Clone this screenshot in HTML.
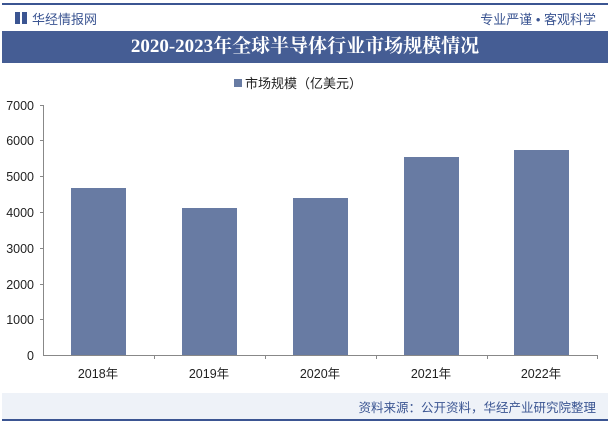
<!DOCTYPE html>
<html><head><meta charset="utf-8"><style>
body{margin:0;width:610px;height:425px;background:#fff;font-family:"Liberation Sans","Noto Sans CJK SC",sans-serif;position:relative;overflow:hidden}
.a{position:absolute}
</style></head><body>
<div class="a" style="left:2px;top:3px;width:606px;height:2px;background:#3b5592"></div>
<div class="a" style="left:15px;top:12px;width:5px;height:12px;background:#3b5592"></div>
<div class="a" style="left:22px;top:12px;width:5px;height:12px;background:#3b5592"></div>
<div class="a" style="left:32px;top:9px;font-size:13px;color:#3b5592">华经情报网</div>
<div class="a" style="right:14px;top:9px;font-size:13px;color:#3b5592">专业严谨 • 客观科学</div>
<div class="a" style="left:2px;top:31px;width:606px;height:32px;background:#455d94;color:#fff;font-family:'Liberation Serif','Noto Serif CJK SC',serif;font-weight:bold;font-size:19px;text-align:center;line-height:32px">2020-2023年全球半导体行业市场规模情况</div>
<div class="a" style="left:234px;top:79px;width:8px;height:8px;background:#687ba3"></div>
<div class="a" style="left:245px;top:73px;font-size:13px;color:#222">市场规模（亿美元）</div>
<svg class="a" style="left:0;top:0" width="610" height="425">
<g fill="#687ba3">
<rect x="71" y="188" width="55" height="167"/>
<rect x="182" y="208" width="55" height="147"/>
<rect x="293" y="198" width="55" height="157"/>
<rect x="404" y="157" width="55" height="198"/>
<rect x="514" y="150" width="55" height="205"/>
</g>
<g stroke="#888" stroke-width="1">
<line x1="43.5" y1="105" x2="43.5" y2="355"/>
<line x1="43" y1="355.5" x2="597" y2="355.5"/>
<line x1="40" y1="105.5" x2="43" y2="105.5"/><line x1="40" y1="140.5" x2="43" y2="140.5"/><line x1="40" y1="176.5" x2="43" y2="176.5"/><line x1="40" y1="212.5" x2="43" y2="212.5"/><line x1="40" y1="248.5" x2="43" y2="248.5"/><line x1="40" y1="284.5" x2="43" y2="284.5"/><line x1="40" y1="319.5" x2="43" y2="319.5"/>
<line x1="154.5" y1="355" x2="154.5" y2="359"/><line x1="265.5" y1="355" x2="265.5" y2="359"/><line x1="376.5" y1="355" x2="376.5" y2="359"/><line x1="487.5" y1="355" x2="487.5" y2="359"/><line x1="597.5" y1="355" x2="597.5" y2="359"/>
</g>
<g font-size="12.5" fill="#222" text-anchor="end" font-family="Liberation Sans">
<text x="34" y="110">7000</text><text x="34" y="145">6000</text><text x="34" y="181">5000</text><text x="34" y="217">4000</text><text x="34" y="253">3000</text><text x="34" y="289">2000</text><text x="34" y="324">1000</text><text x="34" y="360">0</text>
</g>
<g font-size="12.5" fill="#222" text-anchor="middle" font-family="Liberation Sans,Noto Sans CJK SC,sans-serif">
<text x="98" y="378">2018年</text><text x="209" y="378">2019年</text><text x="320" y="378">2020年</text><text x="431" y="378">2021年</text><text x="541" y="378">2022年</text>
</g>
</svg>
<div class="a" style="left:2px;top:393px;width:606px;height:26px;background:#eef2f8"></div>
<div class="a" style="right:14px;top:397px;font-size:12.5px;color:#3b5592">资料来源：公开资料，华经产业研究院整理</div>
<div class="a" style="left:2px;top:419px;width:606px;height:2px;background:#3b5592"></div>
</body></html>
